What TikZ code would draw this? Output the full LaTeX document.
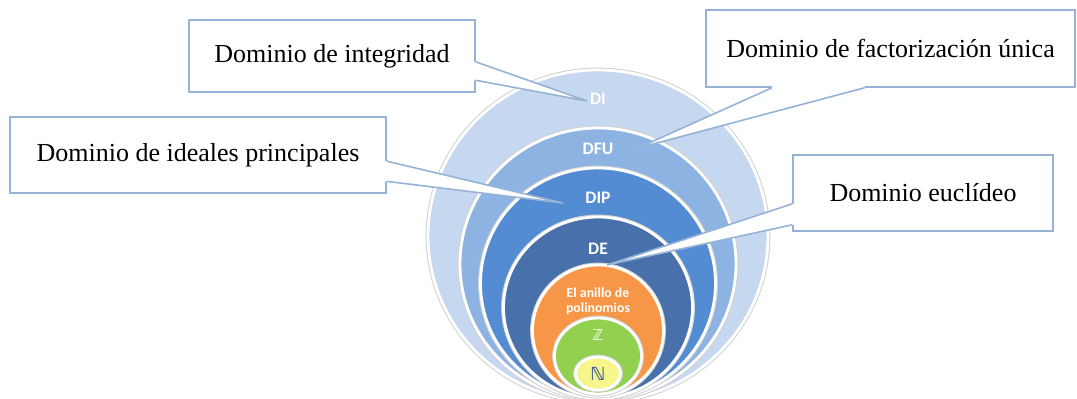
\documentclass[tikz,border=0pt]{standalone}
\usepackage{fontspec}
\setmainfont{Liberation Serif}
\newfontfamily\ringfont{Carlito}
\newfontfamily\setfont{DejaVu Sans}
\usepackage{tikz}
\usetikzlibrary{calc}
\definecolor{ringDI}{RGB}{198,216,239}
\definecolor{ringDFU}{RGB}{141,179,226}
\definecolor{ringDIP}{RGB}{84,140,212}
\definecolor{ringDE}{RGB}{72,112,170}
\definecolor{ringPol}{RGB}{247,150,70}
\definecolor{ringZ}{RGB}{146,208,80}
\definecolor{ringN}{RGB}{246,246,140}
\definecolor{boxBlue}{RGB}{149,179,215}
\definecolor{letterN}{RGB}{66,96,150}
% pointer of a callout box: base start, tip, base end, shift into the box
\newcommand{\callwedge}[4]{%
  \fill[white] (#1) -- (#2) -- (#3) -- ($(#3)+(#4)$) -- ($(#1)+(#4)$) -- cycle;
  \draw[boxline] (#1) -- (#2) -- (#3);}

\begin{document}
\begin{tikzpicture}[x=0.5pt,y=-0.5pt,
  boxline/.style={draw=boxBlue,line width=0.8pt},
  callbox/.style={boxline,fill=white,inner sep=0pt,font=\fontsize{13}{15}\selectfont},
  ringlabel/.style={text=white,font=\ringfont\bfseries\fontsize{8.8}{10}\selectfont,inner sep=1pt}]
\useasboundingbox (0,0) rectangle (1077,399);

% nested rings, all touching near the bottom
\foreach \cy/\rx/\ry/\col in {236/85/83/ringDI,264/69/68/ringDFU,283.5/58.75/57.75/ringDIP,
  307.5/47.25/45.25/ringDE,330.5/32.75/32.75/ringPol,356/21.75/19/ringZ,373.5/11.25/8.25/ringN}
  \filldraw[fill=\col,draw=white,line width=1.4pt,preaction={draw=black!18,line width=2.4pt}]
    (598,\cy) ellipse [x radius=\rx pt,y radius=\ry pt];

\node[ringlabel] (di) at (598,99) {DI};
\node[ringlabel] (dfu) at (598,149) {DFU};
\node[ringlabel] (dip) at (598,198) {DIP};
\node[ringlabel] (de) at (598,249) {DE};
\node[ringlabel,align=center,font=\ringfont\bfseries\fontsize{6.9}{7.4}\selectfont] (pol) at (598,301) {El anillo de\\polinomios};
\node[text=white,font=\setfont\fontsize{7.5}{8}\selectfont] (zz) at (598,335) {ℤ};
\node[text=letterN,font=\setfont\bfseries\fontsize{9}{10}\selectfont] (nn) at (598,374) {ℕ};

\coordinate (tipDI) at (587,101);
\coordinate (tipDFU) at (638,148);
\coordinate (tipDIP) at (563,203);
\coordinate (tipDE) at (607,265);

% callout boxes
\node[callbox,minimum width=143pt,minimum height=36pt] (bxDI) at (332,56) {Dominio de integridad};
\node[callbox,minimum width=184.5pt,minimum height=38.5pt] (bxDFU) at (890.5,48.5) {Dominio de factorización única};
\node[callbox,minimum width=188pt,minimum height=38pt] (bxDIP) at (198,155) {Dominio de ideales principales};
\node[callbox,minimum width=130pt,minimum height=38pt] (bxDE) at (923,193) {Dominio euclídeo};

\callwedge{$(bxDI.north east)!.58!(bxDI.south east)$}{tipDI}{$(bxDI.north east)!.83!(bxDI.south east)$}{-3,0}
\callwedge{$(bxDFU.south west)!.18!(bxDFU.south east)$}{tipDFU}{$(bxDFU.south west)!.43!(bxDFU.south east)$}{0,-3}
\callwedge{$(bxDIP.north east)!.58!(bxDIP.south east)$}{tipDIP}{$(bxDIP.north east)!.84!(bxDIP.south east)$}{-3,0}
\callwedge{$(bxDE.north west)!.64!(bxDE.south west)$}{tipDE}{$(bxDE.north west)!.91!(bxDE.south west)$}{3,0}
\end{tikzpicture}
\end{document}
